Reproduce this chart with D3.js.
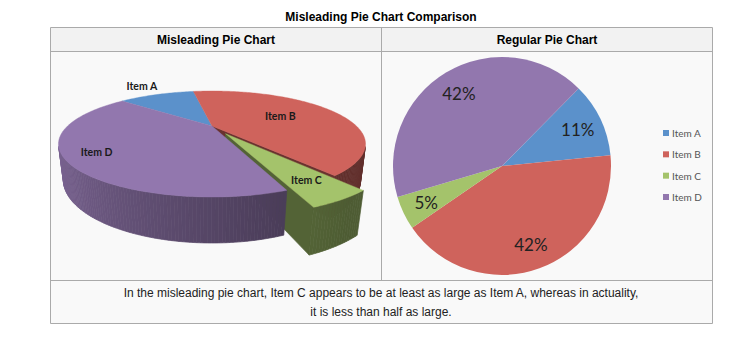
<!DOCTYPE html>
<html><head><meta charset="utf-8">
<script src="https://cdn.jsdelivr.net/npm/d3@7"></script>
<style>html,body{margin:0;padding:0;background:#fff;} svg{display:block;}</style>
</head><body>
<svg id="c" width="742" height="338"></svg>
<script>
// ---- data ----
const categories = ["Item A", "Item B", "Item C", "Item D"];
const values = [11, 42, 5, 42];
const colors = ["#5b91cb", "#cf635c", "#a4c36b", "#9277ae"];
const exploded = [false, false, true, false];
const title = "Misleading Pie Chart Comparison";
const headers = ["Misleading Pie Chart", "Regular Pie Chart"];
const captionLines = [
  "In the misleading pie chart, Item C appears to be at least as large as Item A, whereas in actuality,",
  "it is less than half as large."
];

const data = categories.map((c, i) => ({name: c, value: values[i], color: colors[i], exploded: exploded[i]}));
const total = d3.sum(values);
const svg = d3.select("#c");
const font = "'Liberation Sans', Arial, Helvetica, sans-serif";
const font2 = "Lato, 'Liberation Sans', Arial, sans-serif";
const deg = Math.PI / 180;

// ---- table frame ----
const T = {x0: 50.5, x1: 712.5, y0: 27.5, yh: 51.5, yb: 280.5, y1: 323.5, xm: 381.5};
svg.append("rect").attr("x", T.x0).attr("y", T.y0).attr("width", T.x1 - T.x0).attr("height", T.yh - T.y0).attr("fill", "#f2f2f2");
svg.append("rect").attr("x", T.x0).attr("y", T.yh).attr("width", T.x1 - T.x0).attr("height", T.y1 - T.yh).attr("fill", "#f9f9f9");
const lines = [
  [T.x0, T.y0, T.x1, T.y0], [T.x0, T.yh, T.x1, T.yh], [T.x0, T.yb, T.x1, T.yb], [T.x0, T.y1, T.x1, T.y1],
  [T.x0, T.y0, T.x0, T.y1], [T.x1, T.y0, T.x1, T.y1], [T.xm, T.y0, T.xm, T.yb]
];
svg.selectAll("line.frame").data(lines).join("line").attr("class", "frame")
  .attr("x1", d => d[0]).attr("y1", d => d[1]).attr("x2", d => d[2]).attr("y2", d => d[3])
  .attr("stroke", "#aaa").attr("stroke-width", 1);

svg.append("text").attr("x", 381).attr("y", 21).attr("text-anchor", "middle")
  .attr("font-family", font).attr("font-size", 12).attr("font-weight", "bold").attr("fill", "#000").text(title);
svg.selectAll("text.hdr").data(headers).join("text").attr("class", "hdr")
  .attr("x", (d, i) => i === 0 ? (T.x0 + T.xm) / 2 : (T.xm + T.x1) / 2).attr("y", 44)
  .attr("text-anchor", "middle").attr("font-family", font).attr("font-size", 12).attr("font-weight", "bold")
  .attr("fill", "#000").text(d => d);
svg.selectAll("text.cap").data(captionLines).join("text").attr("class", "cap")
  .attr("x", 381).attr("y", (d, i) => 297 + i * 19).attr("text-anchor", "middle")
  .attr("font-family", font).attr("font-size", 12).attr("fill", "#222").text(d => d);

// ---- regular pie ----
const a2 = 44.7 * deg;
const pie2 = d3.pie().sort(null).value(d => d.value).startAngle(a2).endAngle(a2 + 2 * Math.PI);
const R2 = 109;
const g2 = svg.append("g").attr("transform", "translate(502,166)");
const arc2 = d3.arc().innerRadius(0).outerRadius(R2);
const lab2 = d3.arc().innerRadius(R2 * 0.77).outerRadius(R2 * 0.77);
const arcs2 = pie2(data);
g2.selectAll("path").data(arcs2).join("path").attr("d", arc2).attr("fill", d => d.data.color);
const fmt = d3.format(".0%");
g2.selectAll("text").data(arcs2).join("text")
  .attr("transform", d => `translate(${lab2.centroid(d)})`)
  .attr("text-anchor", "middle").attr("dominant-baseline", "central")
  .attr("font-family", font2).attr("font-size", 17).attr("fill", "#222")
  .text(d => fmt(d.data.value / total));

// legend
const ly = d3.scalePoint().domain(categories).range([133, 197]);
const lg = svg.append("g");
lg.selectAll("rect").data(data).join("rect")
  .attr("x", 663).attr("y", d => ly(d.name) - 3).attr("width", 6).attr("height", 6).attr("fill", d => d.color);
lg.selectAll("text").data(data).join("text")
  .attr("x", 672).attr("y", d => ly(d.name)).attr("dominant-baseline", "central")
  .attr("font-family", font2).attr("font-size", 10).attr("fill", "#555").text(d => d.name);

// ---- misleading 3D pie ----
const P = {cx: 212, cy: 126, k: 402, s: 0.3247, c: 0.9458, D: 2.784, t: 0.247, explode: 0.18};
function proj(p) {
  const [X, Y, Z] = p;
  const yv = Y * P.c - Z * P.s, zv = Y * P.s + Z * P.c;
  const sc = P.k / (P.D - zv);
  return [P.cx + X * sc, P.cy - yv * sc];
}
function depth(p) { return p[1] * P.s + p[2] * P.c; }
const cam = [0, P.D * P.s, P.D * P.c];
const a3 = -49.5 * deg;
const pie3 = d3.pie().sort(null).value(d => d.value).startAngle(a3).endAngle(a3 + 2 * Math.PI);
const arcs3 = pie3(data);
const lineGen = d3.line();
const labelR3 = {"Item A": 1.38, "Item B": 0.56, "Item C": 0.77, "Item D": 0.82};

function visible(pts, n) {
  const m = [0, 1, 2].map(j => d3.mean(pts, p => p[j]));
  const v = [cam[0] - m[0], cam[1] - m[1], cam[2] - m[2]];
  return n[0] * v[0] + n[1] * v[1] + n[2] * v[2] > 0;
}

const allWalls = [];
const slices = arcs3.map((d, i) => {
  const mid = (d.startAngle + d.endAngle) / 2;
  const e = d.data.exploded ? P.explode : 0;
  const off = [e * Math.sin(mid), e * -Math.cos(mid)];
  const rim = (a, Y) => [off[0] + Math.sin(a), Y, off[1] - Math.cos(a)];
  const apex = Y => [off[0], Y, off[1]];
  const n = Math.max(2, Math.ceil((d.endAngle - d.startAngle) / deg));
  const angs = d3.range(n + 1).map(j => d.startAngle + (d.endAngle - d.startAngle) * j / n);
  const top = [apex(0), ...angs.map(a => rim(a, 0))];
  for (let j = 0; j < n; j++) {
    const q = [rim(angs[j], 0), rim(angs[j + 1], 0), rim(angs[j + 1], -P.t), rim(angs[j], -P.t)];
    const am = (angs[j] + angs[j + 1]) / 2;
    const nrm = [Math.sin(am), 0, -Math.cos(am)];
    if (visible(q, nrm)) {
      const amt = Math.max(0.4, Math.min(2.1, 1.52 + 1.08 * Math.sin(am)));
      allWalls.push({pts: q, color: d3.color(d.data.color).darker(amt).formatHex()});
    }
  }
  const prev = arcs3[(i + 3) % 4].data.exploded, next = arcs3[(i + 1) % 4].data.exploded;
  if (d.data.exploded || prev) {
    const q = [apex(0), rim(d.startAngle, 0), rim(d.startAngle, -P.t), apex(-P.t)];
    const nrm = [-Math.cos(d.startAngle), 0, -Math.sin(d.startAngle)];
    if (visible(q, nrm)) allWalls.push({pts: q, color: d3.color(d.data.color).darker(1.9).formatHex()});
  }
  if (d.data.exploded || next) {
    const q = [apex(0), rim(d.endAngle, 0), rim(d.endAngle, -P.t), apex(-P.t)];
    const nrm = [Math.cos(d.endAngle), 0, Math.sin(d.endAngle)];
    if (visible(q, nrm)) allWalls.push({pts: q, color: d3.color(d.data.color).darker(1.9).formatHex()});
  }
  const lr = labelR3[d.data.name] || 0.62;
  const label = proj([off[0] + lr * Math.sin(mid), 0, off[1] - lr * Math.cos(mid)]);
  return {d, top, label, z: depth([off[0] + 0.5 * Math.sin(mid), 0, off[1] - 0.5 * Math.cos(mid)]) + (d.data.exploded ? 10 : 0)};
});
allWalls.forEach(w => w.z = d3.mean(w.pts, depth));
allWalls.sort((a, b) => a.z - b.z);
slices.sort((a, b) => a.z - b.z);

const g3 = svg.append("g");
g3.selectAll("path.wall").data(allWalls).join("path").attr("class", "wall")
  .attr("d", w => lineGen(w.pts.map(proj)) + "Z")
  .attr("fill", w => w.color).attr("stroke", w => w.color).attr("stroke-width", 0.7).attr("stroke-linejoin", "round");
g3.selectAll("path.top").data(slices).join("path").attr("class", "top")
  .attr("d", sl => lineGen(sl.top.map(proj)) + "Z")
  .attr("fill", sl => sl.d.data.color).attr("stroke", sl => sl.d.data.color).attr("stroke-width", 0.4);
g3.selectAll("text").data(slices).join("text")
  .attr("x", s => s.label[0]).attr("y", s => s.label[1])
  .attr("text-anchor", "middle").attr("dominant-baseline", "central")
  .attr("font-family", font2).attr("font-size", 10.5).attr("font-weight", "bold").attr("fill", "#1a1a1a")
  .text(s => s.d.data.name);
</script>
</body></html>
